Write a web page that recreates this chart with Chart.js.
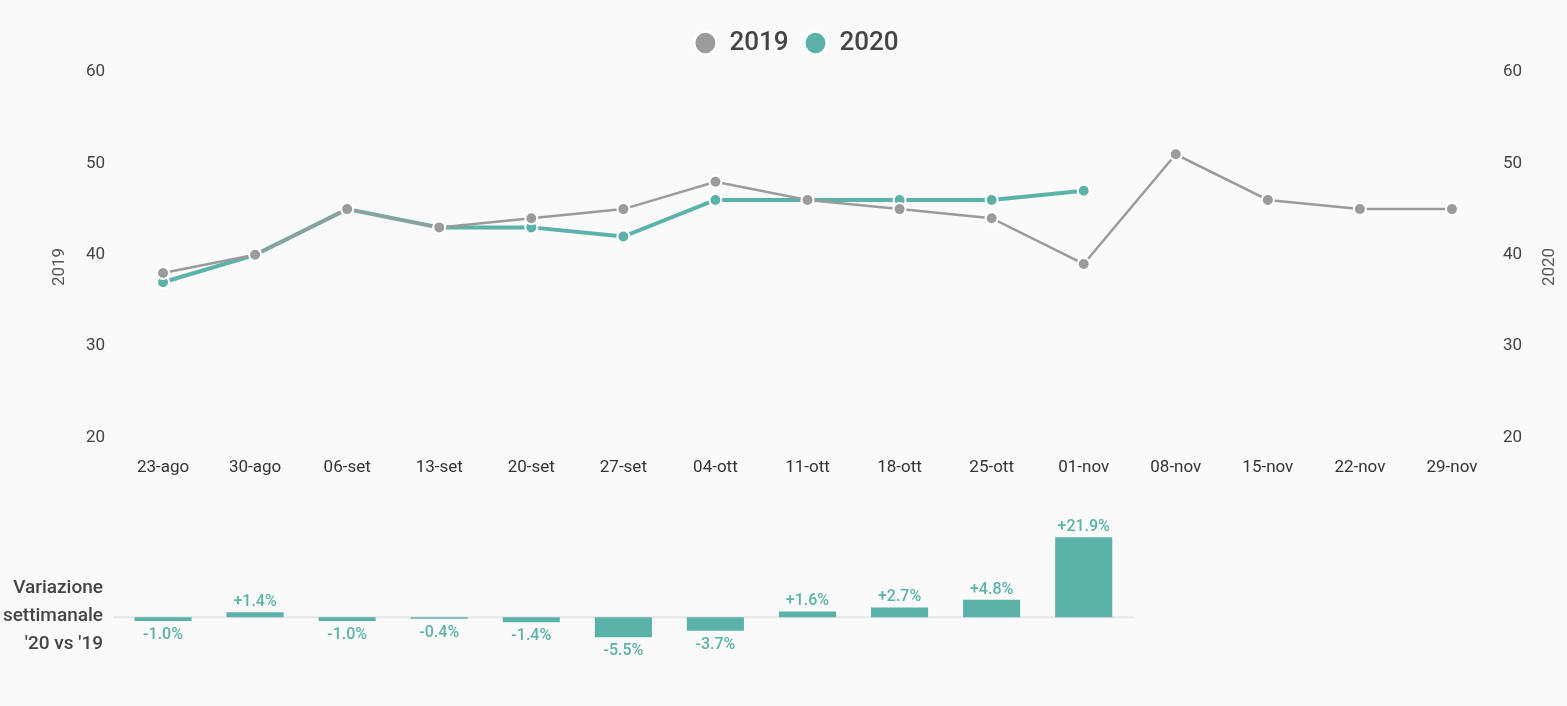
<!DOCTYPE html>
<html>
<head>
<meta charset="utf-8">
<script src="https://cdn.jsdelivr.net/npm/chart.js@4.4.0/dist/chart.umd.min.js"></script>
<style>
  html, body { margin: 0; padding: 0; background: #fafafa; }
  #wrap { position: relative; width: 1567px; height: 706px; font-family: Roboto, sans-serif; }
  #lineChart { position: absolute; left: 0; top: 0; }
  #barChart { position: absolute; left: 0; top: 490px; }
  #barTitle {
    position: absolute; left: 0; top: 573px; width: 103px;
    text-align: right; font-size: 19px; font-weight: 500; line-height: 28px; color: #444;
  }
</style>
</head>
<body>
<div id="wrap">
  <canvas id="lineChart" width="1567" height="504"></canvas>
  <canvas id="barChart" width="1567" height="216"></canvas>
  <div id="barTitle">Variazione<br>settimanale<br>'20 vs '19</div>
</div>
<script>
const weeks = ['23-ago', '30-ago', '06-set', '13-set', '20-set', '27-set', '04-ott', '11-ott',
  '18-ott', '25-ott', '01-nov', '08-nov', '15-nov', '22-nov', '29-nov'];
const values2019 = [38, 40, 45, 43, 44, 45, 48, 46, 45, 44, 39, 51, 46, 45, 45];
const values2020 = [37, 40, 45, 43, 43, 42, 46, 46, 46, 46, 47];
const variation = [-1.0, 1.4, -1.0, -0.4, -1.4, -5.5, -3.7, 1.6, 2.7, 4.8, 21.9];
const yMin = 20, yMax = 60, yStep = 10;

const grey = '#9b9b9b';
const teal = '#5bb2a9';

Chart.defaults.font.family = 'Roboto, sans-serif';
Chart.defaults.color = '#444';

// a bit more room under the legend, and nudge it right like the original
const legendTweak = {
  id: 'legendTweak',
  beforeInit(chart) {
    const fit = chart.legend.fit;
    chart.legend.fit = function () {
      fit.bind(chart.legend)();
      this.height += 6;
    };
  },
  afterLayout(chart) {
    chart.legend.left += 13;
    chart.legend.right += 13;
  }
};

// axis titles, both read bottom-to-top and sit a little below the middle
const axisTitles = {
  id: 'axisTitles',
  afterDraw(chart) {
    const ctx = chart.ctx;
    const y = 267;
    ctx.save();
    ctx.fillStyle = '#555';
    ctx.font = '17px Roboto, sans-serif';
    ctx.textAlign = 'center';
    ctx.textBaseline = 'middle';
    [[60, '2019'], [1550, '2020']].forEach(([x, t]) => {
      ctx.save();
      ctx.translate(x, y);
      ctx.rotate(-Math.PI / 2);
      ctx.fillText(t, 0, 0);
      ctx.restore();
    });
    ctx.restore();
  }
};

new Chart(document.getElementById('lineChart').getContext('2d'), {
  type: 'line',
  data: {
    labels: weeks,
    datasets: [{
      label: '2019',
      data: values2019,
      yAxisID: 'y',
      borderColor: grey,
      backgroundColor: grey,
      borderWidth: 2.5,
      pointRadius: 6,
      pointBackgroundColor: grey,
      pointBorderColor: '#fff',
      pointBorderWidth: 2,
      tension: 0
    }, {
      label: '2020',
      data: values2020,
      yAxisID: 'y1',
      borderColor: teal,
      backgroundColor: teal,
      borderWidth: 4,
      pointRadius: 6,
      pointBackgroundColor: teal,
      pointBorderColor: '#fff',
      pointBorderWidth: 2,
      tension: 0
    }]
  },
  options: {
    responsive: false,
    animation: false,
    devicePixelRatio: 1,
    layout: { padding: { top: 14, bottom: 6 } },
    plugins: {
      legend: {
        position: 'top',
        labels: {
          usePointStyle: true,
          pointStyle: 'circle',
          boxHeight: 16,
          pointStyleWidth: 22,
          padding: 16,
          color: '#444',
          font: { size: 26, weight: '500' }
        }
      },
      tooltip: { enabled: false }
    },
    scales: {
      x: {
        offset: true,
        grid: { display: false, drawTicks: false },
        border: { display: false },
        ticks: { color: '#333', font: { size: 17 }, padding: 20, maxRotation: 0 }
      },
      y: {
        position: 'left',
        min: yMin, max: yMax,
        grid: { display: false, drawTicks: false },
        border: { display: false },
        ticks: { stepSize: yStep, color: '#444', font: { size: 17 }, padding: 12 },
        afterFit(scale) { scale.width = 117; }
      },
      y1: {
        position: 'right',
        min: yMin, max: yMax,
        grid: { display: false, drawTicks: false },
        border: { display: false },
        ticks: { stepSize: yStep, color: '#444', font: { size: 17 }, padding: 5 },
        afterFit(scale) { scale.width = 69; }
      }
    }
  },
  plugins: [legendTweak, axisTitles]
});

const zeroLine = {
  id: 'zeroLine',
  beforeDatasetsDraw(chart) {
    const ctx = chart.ctx;
    const y = chart.scales.y.getPixelForValue(0);
    const meta = chart.getDatasetMeta(0);
    const last = meta.data[variation.length - 1];
    const half = (chart.scales.x.getPixelForValue(1) - chart.scales.x.getPixelForValue(0)) / 2;
    ctx.save();
    ctx.strokeStyle = '#e6e6e6';
    ctx.lineWidth = 2;
    ctx.beginPath();
    ctx.moveTo(chart.chartArea.left - 4, y);
    ctx.lineTo(last.x + half + 4, y);
    ctx.stroke();
    ctx.restore();
  }
};

const barLabels = {
  id: 'barLabels',
  afterDatasetsDraw(chart) {
    const ctx = chart.ctx;
    const meta = chart.getDatasetMeta(0);
    ctx.save();
    ctx.fillStyle = teal;
    ctx.font = '500 16px Roboto, sans-serif';
    ctx.textAlign = 'center';
    meta.data.forEach((bar, i) => {
      const v = variation[i];
      if (v == null) return;
      const text = (v > 0 ? '+' : '') + v.toFixed(1) + '%';
      if (v >= 0) {
        ctx.textBaseline = 'bottom';
        ctx.fillText(text, bar.x, bar.y - 2);
      } else {
        ctx.textBaseline = 'top';
        ctx.fillText(text, bar.x, bar.y + 6);
      }
    });
    ctx.restore();
  }
};

new Chart(document.getElementById('barChart').getContext('2d'), {
  type: 'bar',
  data: {
    labels: weeks,
    datasets: [{
      data: variation,
      backgroundColor: teal,
      barPercentage: 0.62,
      categoryPercentage: 1
    }]
  },
  options: {
    responsive: false,
    animation: false,
    devicePixelRatio: 1,
    layout: { padding: { left: 117, right: 69, top: 36, bottom: 34 } },
    plugins: { legend: { display: false }, tooltip: { enabled: false } },
    scales: {
      x: { display: false, offset: true },
      y: { display: false, min: -15, max: 25 }
    }
  },
  plugins: [zeroLine, barLabels]
});
</script>
</body>
</html>
